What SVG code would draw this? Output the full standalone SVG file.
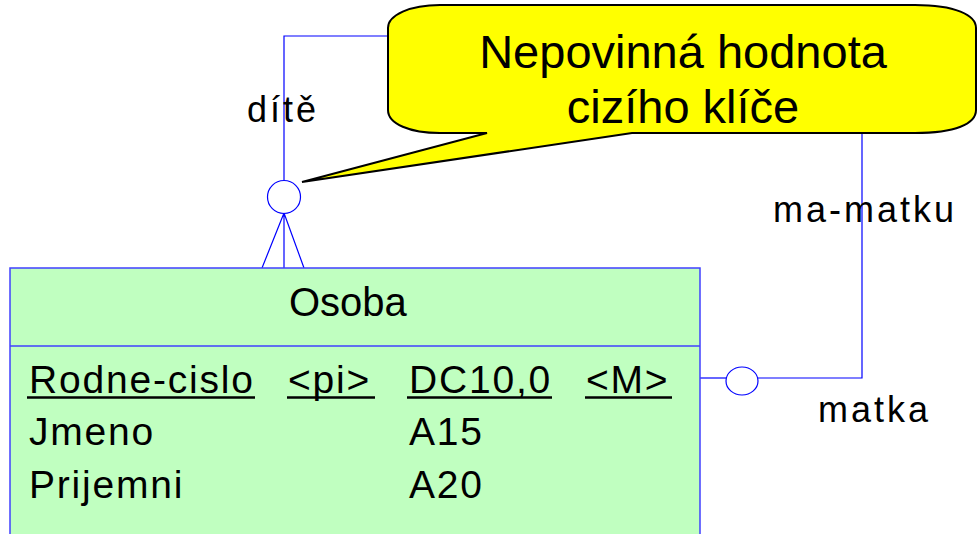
<svg xmlns="http://www.w3.org/2000/svg" width="977" height="534" viewBox="0 0 977 534">
<style>
.t{font-family:"Liberation Sans",Arial,sans-serif;fill:#000}
.lbl{font-size:36px;letter-spacing:3px}
.attr{font-size:39px;letter-spacing:1.8px}
.conn{fill:none;stroke:#0000ff;stroke-width:1.2}
.ul{stroke:#000;stroke-width:2.5}
</style>
<rect width="977" height="534" fill="#fff"/>
<g id="connectors">
<polyline class="conn" points="284,180 284,36 862,36 862,378 758,378"/>
<line class="conn" x1="726" y1="378" x2="700" y2="378"/>
<circle class="conn" cx="284" cy="197" r="16.5"/>
<ellipse class="conn" cx="742" cy="381" rx="16" ry="14"/>
<path class="conn" d="M284,213 L262,268 M284,213 L284,268 M284,213 L304,268"/>
</g>
<g id="labels">
<text class="t lbl" x="247" y="122">dítě</text>
<text class="t lbl" x="773" y="222">ma-matku</text>
<text class="t lbl" x="818" y="422">matka</text>
</g>
<g id="callout">
<path d="M440,5 H915 C955,5 976,15 976,28 V110 C976,124 955,133 915,133 H632 L302,182 L487,133 H440 C410,133 388,124 388,110 V28 C388,15 410,5 440,5 Z" fill="#ffff00" stroke="#000" stroke-width="2"/>
<text class="t" font-size="47" text-anchor="middle" x="683" y="68">Nepovinná hodnota</text>
<text class="t" font-size="47" text-anchor="middle" x="683" y="123">cizího klíče</text>
</g>
<g id="osoba">
<rect x="10" y="268" width="690" height="280" fill="#c0ffc0" stroke="#4040ff" stroke-width="1.5"/>
<line x1="10" y1="346" x2="700" y2="346" stroke="#4040ff" stroke-width="1.5"/>
<text class="t" font-size="40" x="289" y="316">Osoba</text>
<text class="t attr" x="29" y="393">Rodne-cislo</text>
<text class="t attr" x="288" y="393">&lt;pi&gt;</text>
<text class="t attr" x="409" y="393">DC10,0</text>
<text class="t attr" x="586" y="393">&lt;M&gt;</text>
<line class="ul" x1="27" y1="397.5" x2="255" y2="397.5"/>
<line class="ul" x1="287" y1="397.5" x2="375" y2="397.5"/>
<line class="ul" x1="407" y1="397.5" x2="552" y2="397.5"/>
<line class="ul" x1="585" y1="397.5" x2="672" y2="397.5"/>
<text class="t attr" x="29" y="445">Jmeno</text>
<text class="t attr" x="409" y="445">A15</text>
<text class="t attr" x="29" y="498">Prijemni</text>
<text class="t attr" x="409" y="498">A20</text>
</g>
</svg>
